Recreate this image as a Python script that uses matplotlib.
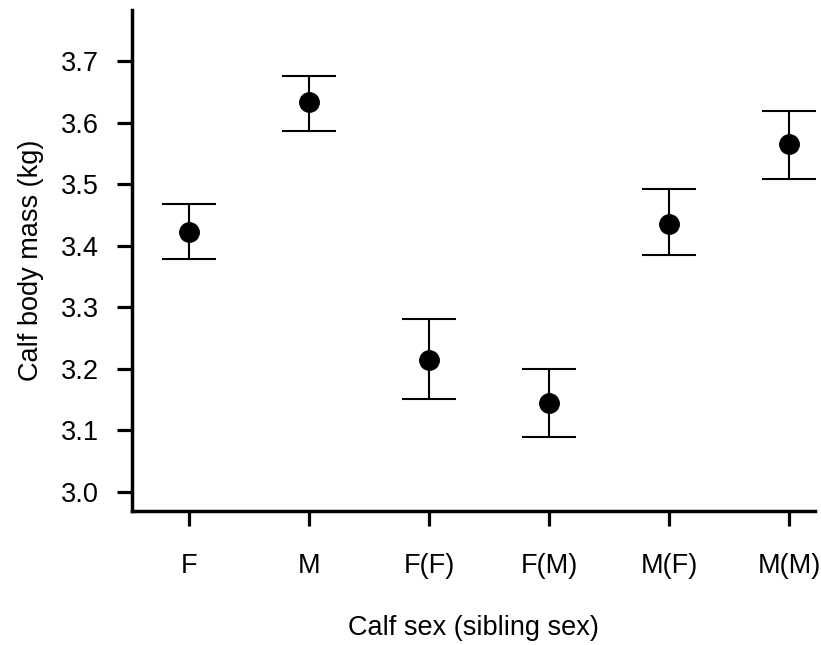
import matplotlib.pyplot as plt
import numpy as np

plt.rcParams['font.family'] = ['Liberation Sans', 'DejaVu Sans']

groups = ['F', 'M', 'F(F)', 'F(M)', 'M(F)', 'M(M)']
mean_mass = [3.423, 3.633, 3.214, 3.144, 3.436, 3.565]
upper_ci = [3.467, 3.676, 3.281, 3.200, 3.492, 3.619]
lower_ci = [3.379, 3.587, 3.151, 3.090, 3.385, 3.508]
yticks = [3.0, 3.1, 3.2, 3.3, 3.4, 3.5, 3.6, 3.7]

x = np.arange(len(groups))
mean = np.array(mean_mass)
err = [mean - np.array(lower_ci), np.array(upper_ci) - mean]

fig = plt.figure(figsize=(8.21, 6.45), dpi=100)
ax = fig.add_axes([132 / 821, 1 - 511 / 645, (815 - 132) / 821, (511 - 10) / 645])

ax.errorbar(x, mean, yerr=err, fmt='o', color='black', markersize=14,
            elinewidth=1.5, capsize=19.5, capthick=1.5)

ax.set_xlim(-0.475, 5.217)
ax.set_ylim(2.969, 3.783)
ax.set_xticks(x)
ax.set_xticklabels(groups)
ax.set_yticks(yticks)
ax.set_yticklabels([f'{v:.1f}' for v in yticks])

for s in ['top', 'right']:
    ax.spines[s].set_visible(False)
for s in ['left', 'bottom']:
    ax.spines[s].set_linewidth(2.5)

ax.tick_params(axis='both', direction='out', length=11, width=2.3, labelsize=19.5)
ax.tick_params(axis='y', pad=13)
ax.tick_params(axis='x', pad=19)

ax.set_xlabel('Calf sex (sibling sex)', fontsize=19.5, labelpad=26)
ax.set_ylabel('Calf body mass (kg)', fontsize=19.5, labelpad=12)

plt.savefig('out.png', dpi=100)
